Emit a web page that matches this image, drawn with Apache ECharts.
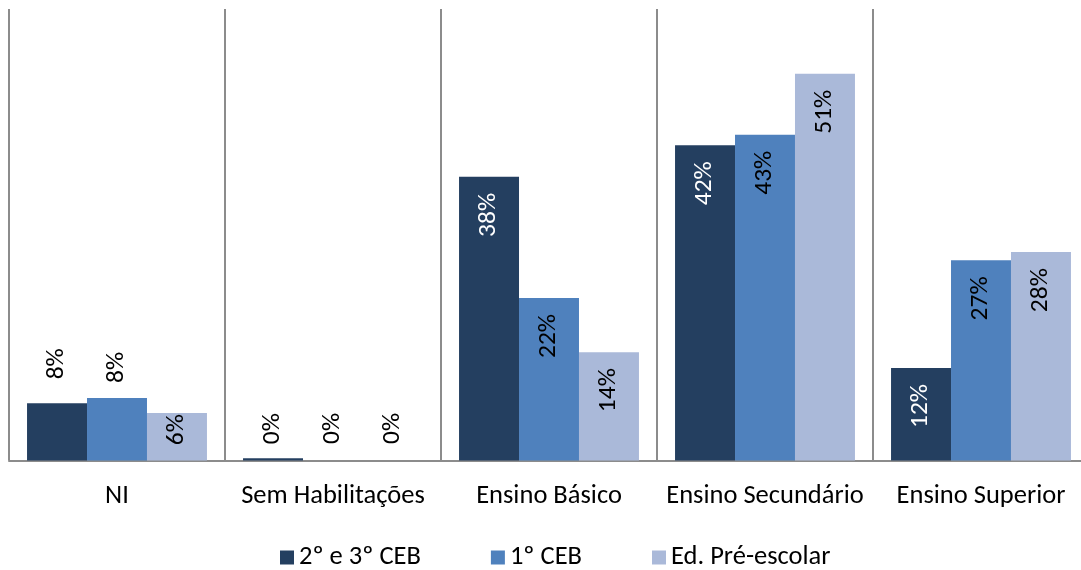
<!DOCTYPE html>
<html>
<head>
<meta charset="utf-8">
<script src="https://cdn.jsdelivr.net/npm/echarts@6/dist/echarts.min.js"></script>
<style>
html,body{margin:0;padding:0;background:#fff;overflow:hidden;}
#c{width:1100px;height:570px;}
</style>
</head>
<body>
<div id="c"></div>
<script>
const categories = ['NI', 'Sem Habilitações', 'Ensino Básico', 'Ensino Secundário', 'Ensino Superior'];
const seriesNames = ['2º e 3º CEB', '1º CEB', 'Ed. Pré-escolar'];
const ceb23 = [7.6, 0.3, 37.7, 41.9, 12.3];
const ceb1 = [8.3, 0, 21.6, 43.3, 26.6];
const preEscolar = [6.3, 0, 14.4, 51.4, 27.7];

const colors = ['#243F60', '#4F81BD', '#AAB9D9'];
const labelColors = ['#ffffff', '#000000', '#000000'];
const FONT = 'Carlito, Lato, sans-serif';

function labelFor(s, i) {
  const base = {
    show: true, rotate: 90, position: 'insideTop', distance: 16,
    align: 'right', verticalAlign: 'middle',
    color: labelColors[s], fontSize: 25.5, fontFamily: FONT,
    formatter: p => Math.round(p.value) + '%'
  };
  if (i === 0 && s < 2) {
    return Object.assign(base, {position: 'top', align: 'left', distance: s === 0 ? 24 : 15, color: '#000'});
  }
  if (i === 0 && s === 2) {
    return Object.assign(base, {distance: 1});
  }
  if (i === 1) {
    return Object.assign(base, {position: 'top', align: 'left', distance: s === 0 ? 14 : 16.5, color: '#000'});
  }
  return base;
}

const allValues = [ceb23, ceb1, preEscolar];
const series = allValues.map((vals, s) => ({
  name: seriesNames[s],
  type: 'bar',
  barGap: '0%',
  barCategoryGap: '16.7%',
  itemStyle: {color: colors[s]},
  data: vals.map((v, i) => ({value: v, label: labelFor(s, i)}))
}));

const chart = echarts.init(document.getElementById('c'), null, {renderer: 'canvas'});
chart.setOption({
  animation: false,
  color: colors,
  grid: {left: 9, width: 1080, top: 9, bottom: 109.5, containLabel: false},
  legend: {
    data: seriesNames,
    left: 275, top: 539,
    itemWidth: 14, itemHeight: 14, itemGap: 70,
    icon: 'rect',
    textStyle: {fontSize: 26.5, fontFamily: FONT, color: '#000'}
  },
  xAxis: {
    type: 'category',
    data: categories,
    axisLine: {show: true, lineStyle: {color: '#8c8c8c', width: 2}},
    axisTick: {show: false},
    splitLine: {show: true, interval: 0, lineStyle: {color: '#8c8c8c', width: 2}},
    axisLabel: {fontSize: 26.5, fontFamily: FONT, color: '#000', margin: 22, interval: 0}
  },
  yAxis: {
    type: 'value', min: 0, max: 60, show: false,
    splitLine: {show: false}
  },
  series: series
});
</script>
</body>
</html>
